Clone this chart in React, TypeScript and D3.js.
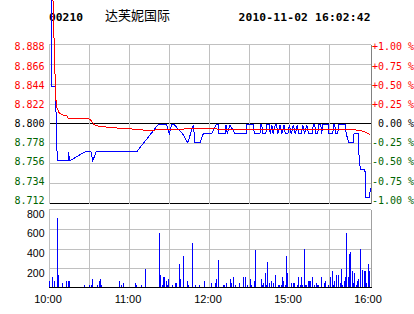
import React from 'react';
import * as d3 from 'd3';

// ---- data ----
const stockCode = '00210';
const stockName = '达芙妮国际';
const stamp = '2010-11-02 16:02:42';
const prevClose = 8.8;
const priceTicks = [8.888, 8.866, 8.844, 8.822, 8.8, 8.778, 8.756, 8.734, 8.712];
const pctLabels = ['+1.00 %', '+0.75 %', '+0.50 %', '+0.25 %', '0.00 %', '-0.25 %', '-0.50 %', '-0.75 %', '-1.00 %'];
const volTicks = [200, 400, 600, 800];
const timeTickMinutes = [0, 60, 120, 180, 240];
const timeTickLabels = ['10:00', '11:00', '12:00', '15:00', '16:00'];
const gridMinutes = [0, 30, 60, 90, 120, 150, 180, 210];

// [minute, price]
const pricePoints: [number, number][] = [
  [1.2, 8.96], [1.2, 8.842], [4.6, 8.842], [4.9, 8.81], [5.8, 8.76],
  [14, 8.76], [14.4, 8.77], [14.8, 8.76], [26.5, 8.77], [31, 8.77], [32.3, 8.76], [34.8, 8.77],
  [65, 8.77], [81, 8.8], [87.5, 8.8], [89.4, 8.79], [91.2, 8.8], [93.2, 8.8], [99.4, 8.79],
  [103.2, 8.78], [107.4, 8.8], [108.6, 8.78], [112.3, 8.78], [114.8, 8.79], [121.1, 8.79],
  [124.3, 8.8], [126, 8.8], [126.5, 8.79], [131, 8.79], [131.8, 8.8], [132.7, 8.79], [134.7, 8.8],
  [138.5, 8.79], [146.7, 8.79], [147.2, 8.8], [152.2, 8.8], [152.9, 8.79], [157.1, 8.79], [157.6, 8.8],
  [158.5, 8.8], [159.2, 8.79], [161.5, 8.79], [162.3, 8.8], [164, 8.8], [164.8, 8.79], [166, 8.8],
  [167, 8.79], [168.5, 8.8], [169.5, 8.8], [170.5, 8.79], [172, 8.8], [173.5, 8.79], [175, 8.8],
  [176, 8.79], [178, 8.79], [179, 8.8], [180.5, 8.79], [182, 8.8], [183.5, 8.79], [185, 8.8],
  [186, 8.79], [188, 8.79], [189, 8.8], [190.5, 8.79], [192, 8.8], [193.5, 8.79], [196, 8.79],
  [197, 8.8], [198, 8.8], [198.7, 8.79], [200.3, 8.79], [200.8, 8.8], [202.5, 8.8], [203.2, 8.79],
  [204, 8.8], [208, 8.8], [208.6, 8.79], [211.5, 8.79], [212, 8.8], [213, 8.8], [213.6, 8.79],
  [215.2, 8.79], [215.7, 8.8], [220.8, 8.8], [221.5, 8.79], [223.5, 8.78], [226.8, 8.78],
  [227.3, 8.79], [230.5, 8.79], [231.2, 8.76], [232.2, 8.75], [235.5, 8.75], [236, 8.72],
  [238.7, 8.72], [239.8, 8.73],
];

// [minute, average price]
const avgPoints: [number, number][] = [
  [2.2, 8.96], [4.1, 8.857], [4.85, 8.827], [5.6, 8.819], [7.3, 8.813], [9.3, 8.811], [13.1, 8.81],
  [14, 8.807], [28.7, 8.807], [31, 8.805], [33.2, 8.8], [37.7, 8.798], [47.4, 8.797], [52.6, 8.796],
  [60.1, 8.7956], [67.6, 8.7945], [75, 8.7937], [84.7, 8.795], [112, 8.7956], [142, 8.795],
  [187, 8.7945], [226, 8.7945], [231.8, 8.794], [235.5, 8.792], [239.3, 8.789],
];

// [minute, volume]
const volumeBars: [number, number][] = [
  [0, 77], [2, 114], [4, 77], [6, 710], [7, 135], [10, 57], [13, 77], [14, 77], [15, 77], [26, 34],
  [30, 34], [31, 34], [32, 94], [36, 34], [37, 77], [38, 94], [39, 34], [52, 77], [54, 34], [55, 57],
  [64, 57], [65, 34], [69, 34], [72, 195], [82, 562], [83, 135], [84, 34], [85, 114], [86, 114],
  [87, 77], [88, 34], [89, 94], [92, 34], [94, 57], [95, 57], [97, 245], [98, 94], [100, 326],
  [103, 77], [104, 34], [107, 460], [109, 34], [112, 34], [116, 77], [121, 57], [124, 57], [125, 94],
  [126, 286], [130, 34], [131, 34], [132, 57], [135, 94], [136, 57], [137, 114], [139, 34], [142, 57],
  [145, 114], [146, 114], [148, 34], [150, 94], [151, 34], [153, 74], [154, 387], [158, 94], [159, 34],
  [160, 57], [161, 155], [162, 34], [163, 269], [164, 57], [166, 74], [167, 57], [169, 135], [171, 34],
  [172, 34], [173, 34], [174, 114], [175, 74], [176, 34], [177, 326], [178, 155], [181, 57], [182, 57],
  [183, 57], [185, 34], [186, 114], [187, 34], [188, 114], [189, 34], [190, 397], [191, 34], [192, 34],
  [193, 77], [194, 77], [195, 77], [196, 114], [198, 34], [199, 57], [200, 34], [201, 34], [203, 114],
  [205, 57], [206, 77], [208, 34], [210, 114], [211, 175], [212, 34], [213, 77], [214, 135], [216, 135],
  [217, 57], [218, 195], [219, 34], [220, 77], [221, 114], [222, 562], [223, 114], [224, 353],
  [225, 370], [226, 175], [227, 57], [228, 155], [229, 34], [230, 77], [231, 94], [232, 397],
  [234, 188], [235, 175], [236, 175], [237, 57], [238, 245], [239, 178],
];

// ---- layout ----
const W = 414;
const H = 314;
const LEFT = 49;
const RIGHT = 371;
const MONO = "'DejaVu Sans Mono', monospace";
const SANS = "'Liberation Sans', Arial, sans-serif";
const GREEN = '#006400';
const GRID = '#c0c0c0';

const x = d3.scaleLinear().domain([0, 240]).range([LEFT + 0.5, RIGHT]);
const gridX = d3.scaleLinear().domain([0, 240]).range([LEFT, RIGHT - 2]);
const priceY = d3.scaleLinear().domain([8.712, 8.888]).range([203.5, 44.5]);
const labelY = d3.scaleLinear().domain([8.712, 8.888]).range([200, 46.7]);
const lineY = d3.scaleLinear().domain([8.712, 8.888]).range([204.3, 45.3]);
const volY = d3.scaleLinear().domain([0, 800]).range([288.5, 209.5]);

const crisp = (v: number) => Math.floor(v) + 0.5;

const labelColor = (p: number) =>
  Math.abs(p - prevClose) < 1e-9 ? '#000' : p > prevClose ? '#ff0000' : GREEN;

export default function App() {
  const line = d3
    .line<[number, number]>()
    .x((d) => x(d[0]))
    .y((d) => lineY(d[1]));

  const priceTop = crisp(priceY(priceTicks[0]));
  const priceBottom = crisp(priceY(priceTicks[priceTicks.length - 1]));
  const volTop = crisp(volY(800));
  const volBase = crisp(volY(0)) - 1;

  return (
    <svg
      width={W}
      height={H}
      style={{ position: 'fixed', left: 0, top: 0, background: '#fff', display: 'block' }}
    >
      <rect x={0} y={0} width={W} height={H} fill="#fff" />
      {/* title */}
      <text x={LEFT} y={20.5} fontFamily={MONO} fontWeight="bold" fontSize={11.3} fill="#000">
        {stockCode}
      </text>
      <text x={105} y={20} fontFamily="'Noto Sans CJK SC', sans-serif" fontSize={13} fill="#000">
        {stockName}
      </text>
      <text
        x={370.5}
        y={20.5}
        textAnchor="end"
        fontFamily={MONO}
        fontWeight="bold"
        fontSize={11.3}
        fill="#000"
        textLength={132}
        lengthAdjust="spacing"
      >
        {stamp}
      </text>

      {/* price grid */}
      <g shapeRendering="crispEdges">
        {priceTicks.map((p, i) => {
          const isZero = Math.abs(p - prevClose) < 1e-9;
          const isBottom = i === priceTicks.length - 1;
          return (
            <line
              key={'pg' + i}
              x1={LEFT}
              x2={RIGHT}
              y1={crisp(priceY(p))}
              y2={crisp(priceY(p))}
              stroke={isZero || isBottom ? '#000' : GRID}
              strokeWidth={1}
            />
          );
        })}
        {gridMinutes.map((m) => (
          <line
            key={'pv' + m}
            x1={crisp(gridX(m))}
            x2={crisp(gridX(m))}
            y1={priceTop}
            y2={priceBottom}
            stroke={GRID}
          />
        ))}
        <line x1={RIGHT + 0.5} x2={RIGHT + 0.5} y1={priceTop} y2={priceBottom} stroke="#808080" />
        {/* volume grid */}
        {volTicks.map((v) => (
          <line
            key={'vg' + v}
            x1={LEFT}
            x2={RIGHT}
            y1={Math.round(volY(v) - 0.5) + 0.5}
            y2={Math.round(volY(v) - 0.5) + 0.5}
            stroke={GRID}
          />
        ))}
        {gridMinutes.map((m) => (
          <line
            key={'vv' + m}
            x1={crisp(gridX(m))}
            x2={crisp(gridX(m))}
            y1={volTop}
            y2={volBase}
            stroke={GRID}
          />
        ))}
        <line x1={RIGHT + 0.5} x2={RIGHT + 0.5} y1={volTop} y2={volBase} stroke="#a0a0a0" />
      </g>

      {/* price axis labels */}
      {priceTicks.map((p, i) => (
        <text
          key={'pl' + i}
          x={44.5}
          y={labelY(p) + 3.7}
          textAnchor="end"
          fontFamily={MONO}
          fontSize={10}
          fill={labelColor(p)}
        >
          {p.toFixed(3)}
        </text>
      ))}
      {priceTicks.map((p, i) => (
        <text
          key={'pr' + i}
          x={pctLabels[i].startsWith('+') || pctLabels[i].startsWith('-') ? 372 : 378}
          y={labelY(p) + 3.7}
          fontFamily={MONO}
          fontSize={10}
          fill={labelColor(p)}
        >
          {pctLabels[i]}
        </text>
      ))}

      {/* volume axis labels */}
      {volTicks.map((v) => (
        <text
          key={'vl' + v}
          x={44.5}
          y={volY(v) + 8}
          textAnchor="end"
          fontFamily={SANS}
          fontSize={10.5}
          fill="#000"
        >
          {v}
        </text>
      ))}

      {/* volume bars */}
      <g shapeRendering="crispEdges" fill="#0000ff">
        {volumeBars.map(([m, v]) => (
          <rect
            key={'b' + m}
            x={Math.floor(x(m))}
            y={volY(v)}
            width={1}
            height={volBase - volY(v)}
          />
        ))}
      </g>
      <line
        x1={LEFT}
        x2={RIGHT + 1}
        y1={volBase}
        y2={volBase}
        stroke="#000"
        shapeRendering="crispEdges"
      />

      {/* time labels */}
      {timeTickMinutes.map((m, i) => (
        <text
          key={'t' + m}
          x={(m === 240 ? RIGHT : gridX(m)) - (m === 240 ? 3 : 1)}
          y={303}
          textAnchor="middle"
          fontFamily={SANS}
          fontSize={11}
          fill="#000"
        >
          {timeTickLabels[i]}
        </text>
      ))}

      {/* price and average lines */}
      <path d={line(pricePoints) || ''} fill="none" stroke="#0000ff" strokeWidth={1} shapeRendering="crispEdges" />
      <path d={line(avgPoints) || ''} fill="none" stroke="#ff0000" strokeWidth={1} shapeRendering="crispEdges" />
    </svg>
  );
}
